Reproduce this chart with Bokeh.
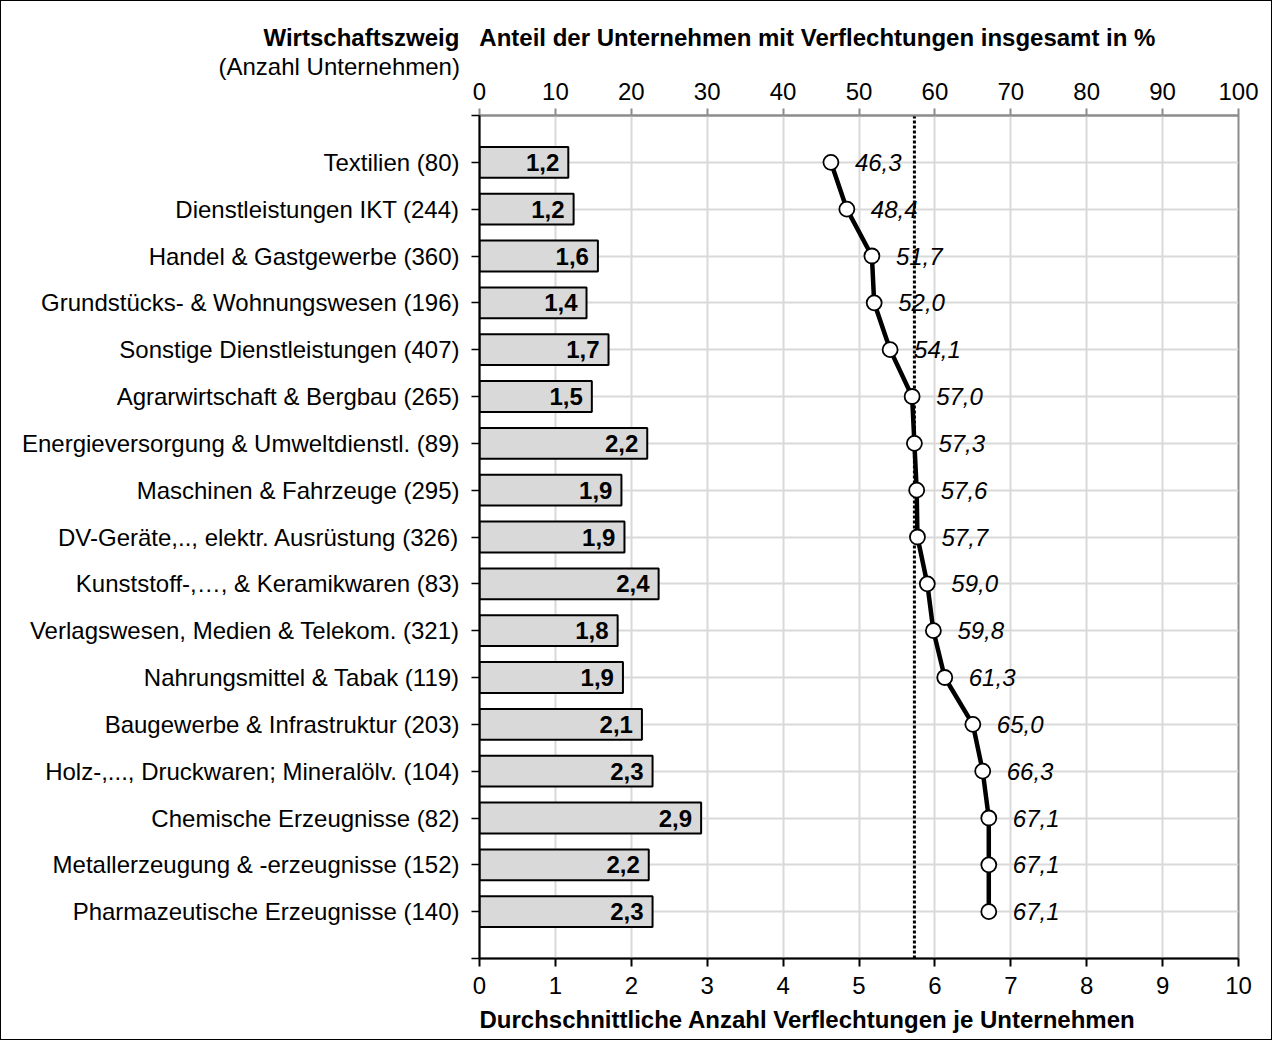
from bokeh.plotting import figure
from bokeh.models import Range1d, LinearAxis, FixedTicker, ColumnDataSource, Title
from bokeh.embed import file_html
from bokeh.resources import INLINE
from bokeh.core.properties import value

# ---------------- data ----------------
categories = [
    "Textilien (80)",
    "Dienstleistungen IKT (244)",
    "Handel & Gastgewerbe (360)",
    "Grundstücks- & Wohnungswesen (196)",
    "Sonstige Dienstleistungen (407)",
    "Agrarwirtschaft & Bergbau (265)",
    "Energieversorgung & Umweltdienstl. (89)",
    "Maschinen & Fahrzeuge (295)",
    "DV-Geräte,.., elektr. Ausrüstung (326)",
    "Kunststoff-,…, & Keramikwaren (83)",
    "Verlagswesen, Medien & Telekom. (321)",
    "Nahrungsmittel & Tabak (119)",
    "Baugewerbe & Infrastruktur (203)",
    "Holz-,..., Druckwaren; Mineralölv. (104)",
    "Chemische Erzeugnisse (82)",
    "Metallerzeugung & -erzeugnisse (152)",
    "Pharmazeutische Erzeugnisse (140)",
]
avg_links = [1.17, 1.24, 1.56, 1.41, 1.70, 1.48, 2.21, 1.87, 1.91, 2.36,
             1.82, 1.89, 2.14, 2.28, 2.92, 2.23, 2.28]
share_pct = [46.3, 48.4, 51.7, 52.0, 54.1, 57.0, 57.3, 57.6, 57.7, 59.0,
             59.8, 61.3, 65.0, 66.3, 67.1, 67.1, 67.1]
overall_share = 57.3
links_ticks = list(range(0, 11))
pct_ticks = list(range(0, 101, 10))

title_left_bold = "Wirtschaftszweig"
title_left_sub = "(Anzahl Unternehmen)"
title_top = "Anteil der Unternehmen mit Verflechtungen insgesamt in %"
title_bottom = "Durchschnittliche Anzahl Verflechtungen je Unternehmen"

FONT = "Liberation Sans"
FS = "24px"
n = len(categories)
rows = list(range(1, n + 1))


def de(v):
    return f"{v:.1f}".replace(".", ",")


src = ColumnDataSource(dict(
    row=rows,
    avg=avg_links,
    pct=share_pct,
    avg_lbl=[de(v) for v in avg_links],
    pct_lbl=[de(v) for v in share_pct],
))

p = figure(width=1272, height=1040,
           x_range=Range1d(0, 10), y_range=Range1d(n + 1, 0),
           output_backend="svg", toolbar_location=None,
           min_border_left=478, min_border_right=35,
           min_border_top=114, min_border_bottom=83)
p.title_location = None
p.styles = {"border": "1px solid black"}
p.extra_x_ranges = {"pct": Range1d(0, 100)}
p.outline_line_color = "#8c8c8c"
p.outline_line_width = 2
p.background_fill_color = "white"

# bottom axis
xa = p.xaxis[0]
xa.ticker = FixedTicker(ticks=links_ticks)
xa.axis_line_color = "black"
xa.axis_line_width = 2
xa.major_tick_line_color = "black"
xa.major_tick_line_width = 2
xa.major_tick_out = 8
xa.major_tick_in = 0
xa.minor_tick_line_color = None
xa.major_label_text_font = FONT
xa.major_label_text_font_size = FS
xa.major_label_text_color = "black"
xa.major_label_standoff = 10

# top axis
ta = LinearAxis(x_range_name="pct", ticker=FixedTicker(ticks=pct_ticks))
ta.axis_line_color = "#8c8c8c"
ta.axis_line_width = 2
ta.major_tick_line_color = "#8c8c8c"
ta.major_tick_line_width = 2
ta.major_tick_out = 7
ta.major_tick_in = 0
ta.minor_tick_line_color = None
ta.major_label_text_font = FONT
ta.major_label_text_font_size = FS
ta.major_label_text_color = "black"
ta.major_label_standoff = 9
p.add_layout(ta, "above")

# left axis
ya = p.yaxis[0]
ya.ticker = FixedTicker(ticks=list(range(0, n + 2)))
overrides = {0: "", n + 1: ""}
for r, c in zip(rows, categories):
    overrides[r] = c
ya.major_label_overrides = overrides
ya.axis_line_color = "black"
ya.axis_line_width = 2
ya.major_tick_line_color = "black"
ya.major_tick_line_width = 1.5
ya.major_tick_out = 8
ya.major_tick_in = 0
ya.minor_tick_line_color = None
ya.major_label_text_font = FONT
ya.major_label_text_font_size = FS
ya.major_label_text_color = "black"
ya.major_label_standoff = 12

# grids
p.xgrid.ticker = FixedTicker(ticks=links_ticks)
p.xgrid.grid_line_color = "#d9d9d9"
p.xgrid.grid_line_width = 2
p.ygrid.ticker = FixedTicker(ticks=rows)
p.ygrid.grid_line_color = "#d9d9d9"
p.ygrid.grid_line_width = 2

# bars
p.hbar(y="row", left=0, right="avg", height=0.66, source=src,
       fill_color="#d9d9d9", line_color="black", line_width=2)
p.text(x="avg", y="row", text="avg_lbl", source=src, x_offset=-9,
       text_align="right", text_baseline="middle",
       text_font=value(FONT), text_font_style="bold",
       text_font_size=FS, text_color="black")

# overall share (dotted)
p.line(x=[overall_share, overall_share], y=[0, n + 1], x_range_name="pct",
       line_color="black", line_width=3, line_dash="3 2")

# share line
p.line(x="pct", y="row", source=src, x_range_name="pct",
       line_color="black", line_width=4.5)
p.scatter(x="pct", y="row", source=src, x_range_name="pct", size=15,
          fill_color="white", line_color="black", line_width=1.8)
p.text(x="pct", y="row", text="pct_lbl", source=src, x_range_name="pct",
       x_offset=24, text_align="left", text_baseline="middle",
       text_font=value(FONT), text_font_style="italic",
       text_font_size=FS, text_color="black")

# titles (stacked outward from the frame in the order they are added)
gap = "\u00a0" * 3
p.add_layout(Title(text=title_left_sub, align="left", offset=-261, standoff=0,
                   text_font=FONT, text_font_style="normal",
                   text_font_size=FS, text_color="black"), "above")
p.add_layout(Title(text=title_left_bold + gap + title_top, align="left",
                   offset=-216, standoff=0,
                   text_font=FONT, text_font_style="bold",
                   text_font_size=FS, text_color="black"), "above")
p.add_layout(Title(text=title_bottom, align="left", offset=0, standoff=14,
                   text_font=FONT, text_font_style="bold",
                   text_font_size=FS, text_color="black"), "below")

open("out.html", "w").write(file_html(p, INLINE))
